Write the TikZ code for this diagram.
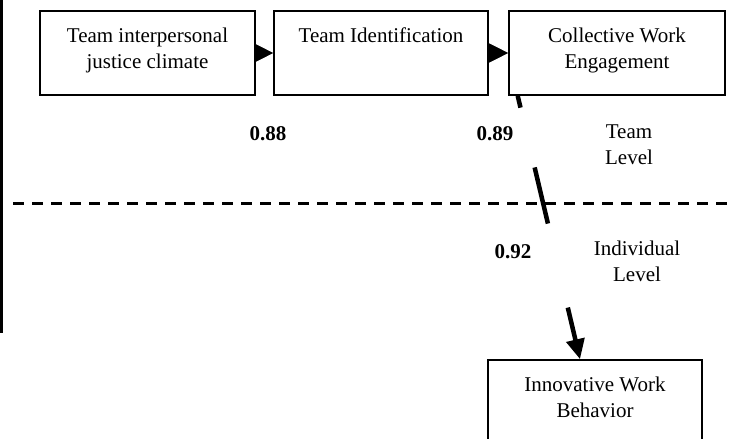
\documentclass[tikz,border=0pt]{standalone}
\usepackage{fontspec}
\setmainfont{Liberation Serif}
\usetikzlibrary{arrows.meta,calc}
\begin{document}
\begin{tikzpicture}[x=1pt,y=-1pt,
  txt/.style={font=\fontsize{21}{26}\selectfont},
  box/.style={txt,draw,line width=1.6pt,minimum width=214pt,minimum height=84pt,
    align=center,text height=44pt,text depth=14pt,inner sep=0pt},
  lab/.style={txt,align=center,inner sep=0pt},
  num/.style={lab,font=\fontsize{21}{26}\selectfont\bfseries},
  harrow/.style={line width=0.6pt,-{Triangle[length=19pt,width=19pt]}},
  thick line/.style={line width=4.5pt},
  rule/.style={line width=3pt},
  level/.style={line width=3pt,dash pattern=on 11pt off 8pt}]
\useasboundingbox (0,0) rectangle (729,439);
\clip (0,0) rectangle (729,439);
% boxes
\node[box,minimum width=215pt] (b1) at (147.5,53) {Team interpersonal\\justice climate};
\node[box] (b2) at (381,53) {Team Identification\\\mbox{}};
\node[box,minimum width=216pt] (b3) at (617,53) {Collective Work\\Engagement};
\node[box] (b4) at (595,402) {Innovative Work\\Behavior};
% horizontal arrows
\draw[harrow] (b1.east) -- (b2.west);
\draw[harrow] (b2.east) -- (b3.west);
% labels
\node[num] (r1) at (268,133.5) {0.88};
\node[num] (r2) at (495,133.5) {0.89};
\node[num] (r3) at (513,252) {0.92};
\node[lab] (tl) at (629,145) {Team\\Level};
\node[lab] (il) at (637,261) {Individual\\Level};
% left rule and level divider
\coordinate (vt) at (1.5,0);
\coordinate (vb) at (1.5,333);
\draw[rule] (vt) -- (vb);
\coordinate (dl) at (13,203);
\coordinate (dr) at (729,203);
\draw[level] (dl) -- (dr);
% broken diagonal arrow from b3 to b4
\coordinate (s) at ($(b3.south west)+(9.5,0)$);
\coordinate (e) at ($(b4.north)+(-15,0)$);
\draw[thick line] (s) -- ($(s)!0.045!(e)$);
\draw[thick line] ($(s)!0.272!(e)$) -- ($(s)!0.485!(e)$);
\draw[thick line,-{Triangle[length=20pt,width=18pt]}] ($(s)!0.804!(e)$) -- (e);
\end{tikzpicture}
\end{document}
